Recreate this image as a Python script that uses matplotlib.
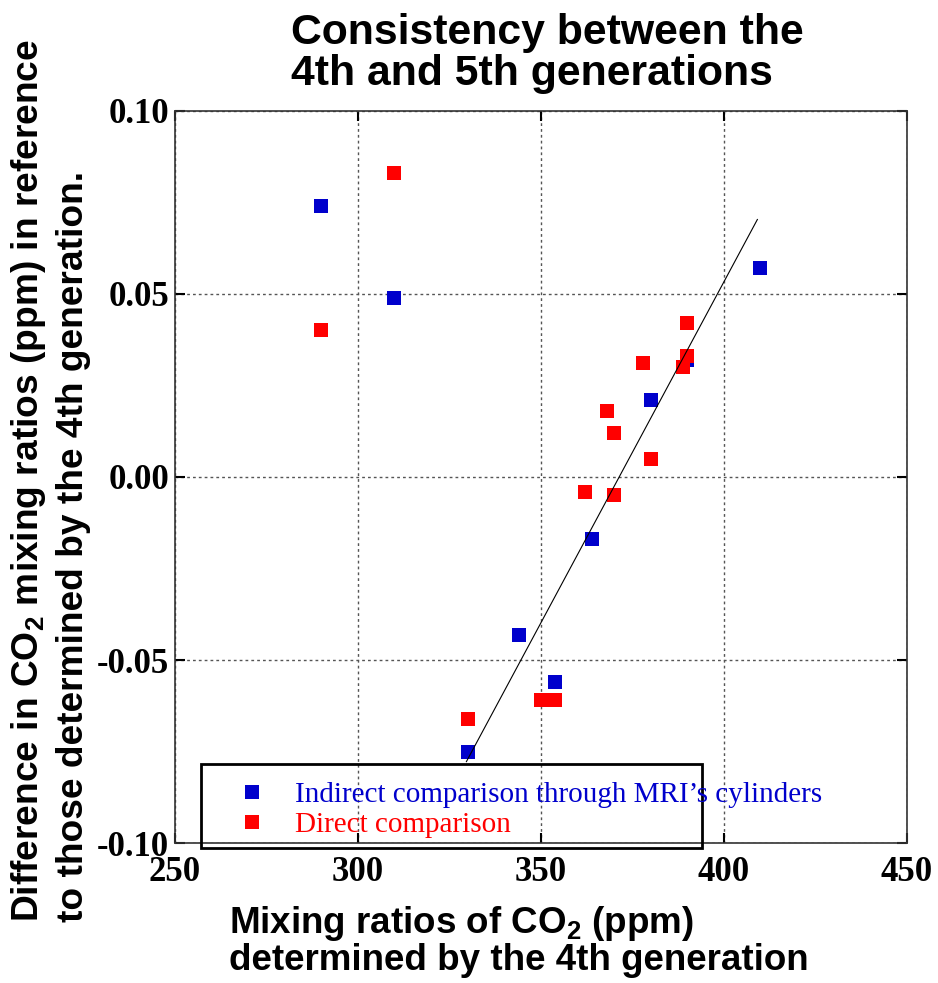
import matplotlib.pyplot as plt
from matplotlib.patches import Rectangle
from matplotlib.lines import Line2D

# indirect comparison (through MRI's cylinders)
blue_x = [290, 310, 330, 344, 354, 364, 380, 390, 410]
blue_y = [0.074, 0.049, -0.075, -0.043, -0.056, -0.017, 0.021, 0.032, 0.057]

# direct comparison
red_x = [290, 310, 330, 350, 354, 362, 368, 370, 370, 378, 380, 389, 390, 390]
red_y = [0.040, 0.083, -0.066, -0.061, -0.061, -0.004, 0.018, 0.012, -0.005,
         0.031, 0.005, 0.030, 0.033, 0.042]

# fitted line endpoints
line_x = [329.7, 409.2]
line_y = [-0.0777, 0.0703]

x_ticks = [250, 300, 350, 400, 450]
y_ticks = [-0.10, -0.05, 0.00, 0.05, 0.10]
y_tick_labels = ["-0.10", "-0.05", "0.00", "0.05", "0.10"]
legend_labels = ["Indirect comparison through MRI\u2019s cylinders", "Direct comparison"]

BLUE = "#0000CC"
RED = "#FF0000"
W, H = 938, 983

plt.rcParams["mathtext.fontset"] = "custom"
plt.rcParams["mathtext.rm"] = "Liberation Sans:bold"
plt.rcParams["mathtext.it"] = "Liberation Sans:bold"
plt.rcParams["mathtext.bf"] = "Liberation Sans:bold"

fig = plt.figure(figsize=(W / 100, H / 100), dpi=100)
ax = fig.add_axes([174.7 / W, 1 - 843.3 / H, 732 / W, 732.6 / H])

ax.plot(blue_x, blue_y, "s", color=BLUE, ms=9.6, mew=0, zorder=3)
ax.plot(red_x, red_y, "s", color=RED, ms=9.6, mew=0, zorder=4)
ax.plot(line_x, line_y, color="k", lw=0.8, zorder=5)

ax.set_xlim(250, 450)
ax.set_ylim(-0.1, 0.1)
ax.set_xticks(x_ticks)
ax.set_yticks(y_ticks)
ax.set_yticklabels(y_tick_labels)
ax.grid(True, color="#555555", ls=(0, (2, 2.2)), lw=1)
ax.set_axisbelow(True)
ax.tick_params(direction="in", length=7, width=1.5, top=True, right=True)
ax.tick_params(axis="x", pad=9)
ax.tick_params(axis="y", pad=4)
for sp in ax.spines.values():
    sp.set_linewidth(1.2)
    sp.set_color("#333333")
for lbl in ax.get_xticklabels() + ax.get_yticklabels():
    lbl.set_family("Liberation Serif")
    lbl.set_weight("bold")
    lbl.set_size(25)

sans = dict(family="Liberation Sans", weight="bold")

# multi-line baseline alignment anchors the last line
fig.text(291 / W, 1 - 85 / H, "Consistency between the\n4th and 5th generations",
         ha="left", va="baseline", size=30.8, linespacing=1.03, **sans)

fig.text(229 / W, 1 - 970 / H,
         "Mixing ratios of CO$_2$ (ppm)\ndetermined by the 4th generation",
         ha="left", va="baseline", size=26.5, linespacing=1.01, **sans)

fig.text(38 / W, 1 - 922 / H,
         "Difference in CO$_2$ mixing ratios (ppm) in reference",
         rotation=90, rotation_mode="anchor", ha="left", va="baseline", size=26.7, **sans)
fig.text(83 / W, 1 - 922 / H,
         "to those determined by the 4th generation.",
         rotation=90, rotation_mode="anchor", ha="left", va="baseline", size=26.7, **sans)

# legend drawn by hand: the box is narrower than the first entry
fig.add_artist(Rectangle((201.4 / W, 1 - 848.3 / H), 500.6 / W, 84 / H,
                         transform=fig.transFigure, fill=False, lw=2, ec="k"))
for yb, ym, col, lab in [(801.7, 792, BLUE, legend_labels[0]),
                         (831.7, 822, RED, legend_labels[1])]:
    fig.add_artist(Line2D([252 / W], [1 - ym / H], marker="s", ms=9.4, mew=0,
                          color=col, transform=fig.transFigure))
    fig.text(295 / W, 1 - yb / H, lab, color=col, family="Liberation Serif",
             size=21, ha="left", va="baseline")

fig.savefig("out.png", dpi=100)
